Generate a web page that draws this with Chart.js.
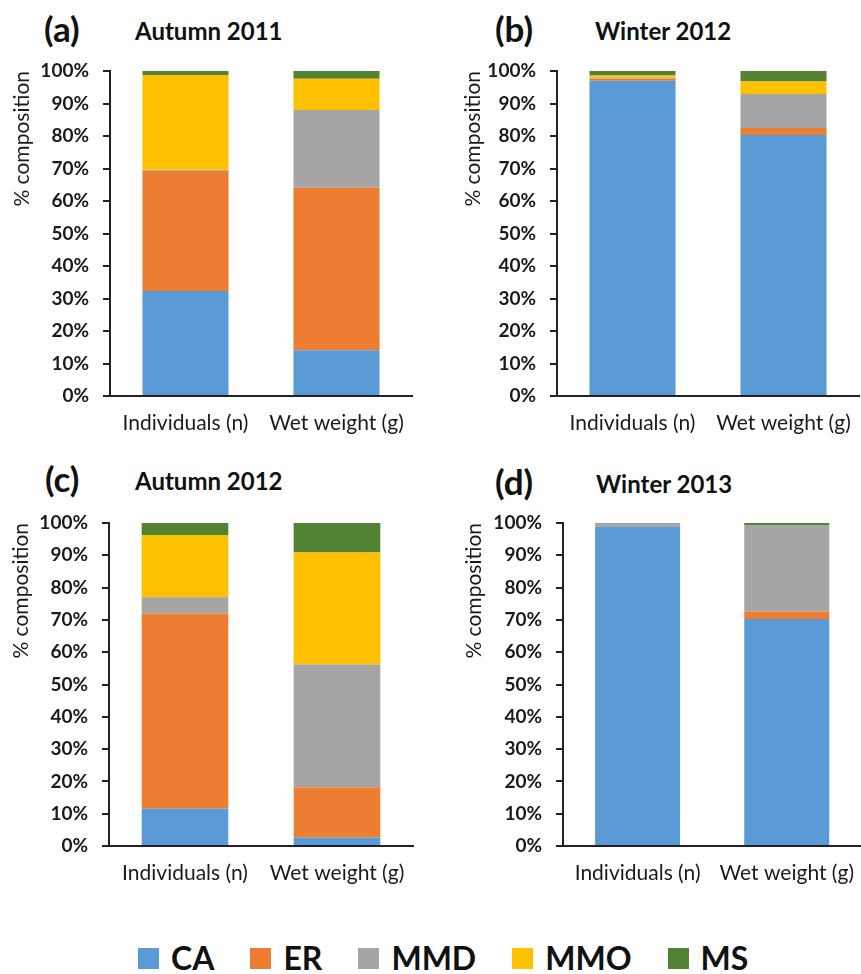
<!DOCTYPE html>
<html>
<head>
<meta charset="utf-8">
<title>% composition by season</title>
<script src="https://cdn.jsdelivr.net/npm/chart.js@4.4.0/dist/chart.umd.min.js"></script>
<style>
  html, body { margin: 0; padding: 0; background: #fff; width: 861px; height: 974px; overflow: hidden; }
  .panel { position: absolute; }
  .tag { position: absolute; font-family: Lato, sans-serif; font-weight: bold; font-size: 35px; line-height: 35px; color: #111; }
  .season { position: absolute; font-family: Lato, sans-serif; font-weight: bold; font-size: 24px; line-height: 24px; color: #111; }
  #legend { position: absolute; left: 138px; top: 942px; display: flex; align-items: center; font-family: Lato, sans-serif; font-weight: bold; font-size: 32px; line-height: 32px; color: #111; }
  #legend .item { display: flex; align-items: center; margin-right: 36px; }
  #legend .swatch { width: 21px; height: 21px; margin-right: 12px; }
</style>
</head>
<body>

<div class="tag" style="left:44px; top:11px;">(a)</div>
<div class="season" style="left:135px; top:19px;">Autumn 2011</div>
<div class="tag" style="left:495px; top:11px;">(b)</div>
<div class="season" style="left:595px; top:19px;">Winter 2012</div>
<div class="tag" style="left:45px; top:461px;">(c)</div>
<div class="season" style="left:135px; top:469px;">Autumn 2012</div>
<div class="tag" style="left:495px; top:464px;">(d)</div>
<div class="season" style="left:596px; top:472px;">Winter 2013</div>

<canvas id="autumn2011" class="panel" width="430" height="445" style="left:0px; top:0px;"></canvas>
<canvas id="winter2012" class="panel" width="440" height="445" style="left:430px; top:0px;"></canvas>
<canvas id="autumn2012" class="panel" width="430" height="445" style="left:0px; top:450px;"></canvas>
<canvas id="winter2013" class="panel" width="440" height="445" style="left:430px; top:450px;"></canvas>

<div id="legend"></div>

<script>
// bar categories and prey groups (stacked bottom to top)
const categories = ['Individuals (n)', 'Wet weight (g)'];
const groups = ['CA', 'ER', 'MMD', 'MMO', 'MS'];

// % composition per group: [Individuals, Wet weight], rows in the order of groups
const autumn2011 = [
    [32.3, 14.1],
    [37.0, 50.0],
    [0.3, 23.9],
    [29.2, 9.6],
    [1.2, 2.4]
];
const winter2012 = [
    [97.0, 80.3],
    [0.7, 2.2],
    [0.2, 10.4],
    [0.7, 3.9],
    [1.4, 3.2]
];
const autumn2012 = [
    [11.6, 2.6],
    [60.4, 15.6],
    [5.0, 38.0],
    [19.3, 34.7],
    [3.7, 9.1]
];
const winter2013 = [
    [98.8, 70.3],
    [0.0, 2.3],
    [1.2, 26.8],
    [0.0, 0.0],
    [0.0, 0.6]
];

const colours = ['#5b9bd5', '#ed7d31', '#a5a5a5', '#ffc000', '#548235'];
const ink = '#1a1a1a';

function drawPanel(id, series, axisWidth, padRight, padTop, titlePad) {
    const ctx = document.getElementById(id).getContext('2d');
    return new Chart(ctx, {
        type: 'bar',
        data: {
            labels: categories,
            datasets: groups.map((g, i) => ({
                label: g,
                data: series[i],
                backgroundColor: colours[i],
                borderWidth: 0,
                categoryPercentage: 1,
                barPercentage: 0.57
            }))
        },
        options: {
            responsive: false,
            animation: false,
            layout: {
                padding: { left: 0, right: padRight, top: padTop, bottom: 0 }
            },
            plugins: {
                legend: { display: false },
                tooltip: { enabled: false }
            },
            scales: {
                x: {
                    stacked: true,
                    grid: { display: false, drawTicks: false },
                    border: { display: true, color: '#222', width: 2 },
                    ticks: {
                        color: ink,
                        padding: 15,
                        maxRotation: 0,
                        font: { family: 'Lato', size: 21 }
                    },
                    afterFit: (scale) => { scale.height = 49; }
                },
                y: {
                    stacked: true,
                    min: 0,
                    max: 100,
                    grid: {
                        drawOnChartArea: false,
                        drawTicks: true,
                        tickLength: 7,
                        color: '#222',
                        lineWidth: 2
                    },
                    border: { display: true, color: '#222', width: 2 },
                    ticks: {
                        stepSize: 10,
                        padding: 14,
                        color: ink,
                        font: { family: 'Lato', size: 19, weight: 'bold' },
                        callback: (v) => v + '%'
                    },
                    title: {
                        display: true,
                        text: '% composition',
                        align: 'end',
                        color: ink,
                        padding: { top: titlePad, bottom: 0 },
                        font: { family: 'Lato', size: 21 }
                    },
                    afterFit: (scale) => { scale.width = axisWidth; }
                }
            }
        }
    });
}

drawPanel('autumn2011', autumn2011, 110, 18, 71, 10);
drawPanel('winter2012', winter2012, 127, 11, 71, 31);
drawPanel('autumn2012', autumn2012, 109, 17, 73, 9);
drawPanel('winter2013', winter2013, 133, 4, 73, 32);

// shared legend under the four panels
const legend = document.getElementById('legend');
groups.forEach((g, i) => {
    const item = document.createElement('div');
    item.className = 'item';
    const swatch = document.createElement('span');
    swatch.className = 'swatch';
    swatch.style.background = colours[i];
    const label = document.createElement('span');
    label.textContent = g;
    item.appendChild(swatch);
    item.appendChild(label);
    legend.appendChild(item);
});
</script>
</body>
</html>
